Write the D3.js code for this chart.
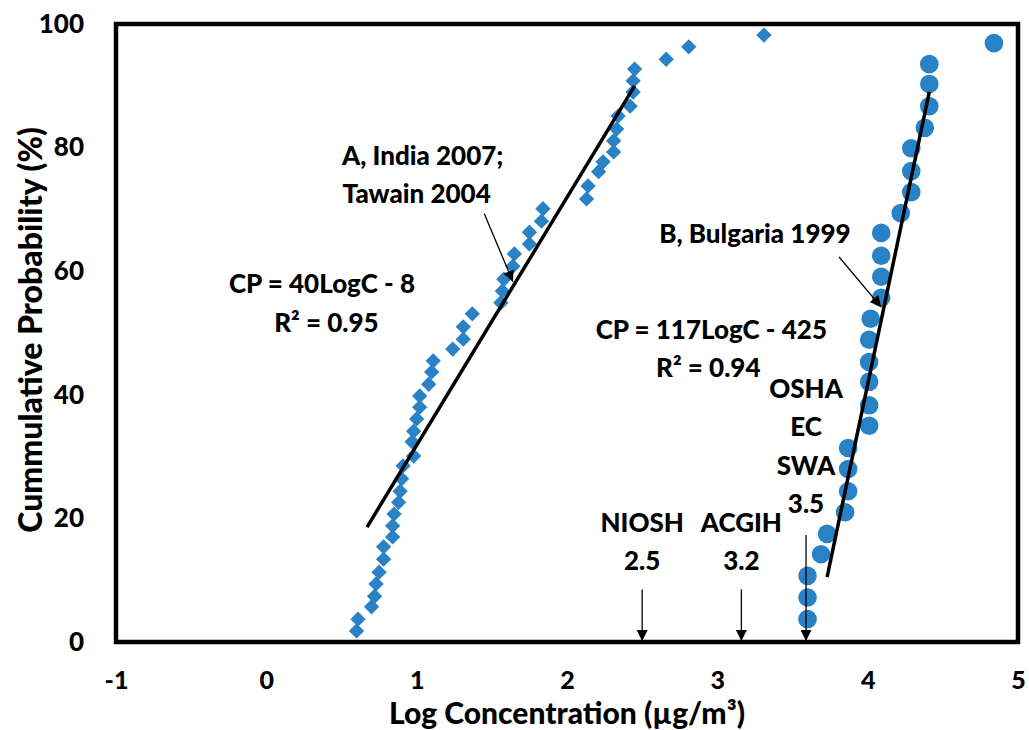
<!DOCTYPE html>
<html>
<head>
<meta charset="utf-8">
<script src="https://cdn.jsdelivr.net/npm/d3@7"></script>
<style>
  body { margin: 0; background: #fff; }
  text { font-family: Lato, "DejaVu Sans", sans-serif; font-weight: 900; fill: #000; }
</style>
</head>
<body>
<svg id="chart"></svg>
<script>
// Data: [log concentration, cumulative probability %]
const seriesA = [[0.60,1.8],[0.61,3.7],[0.70,5.7],[0.72,7.4],[0.73,9.4],[0.75,11.3],[0.78,13.4],[0.78,15.4],
  [0.84,17.0],[0.84,18.8],[0.85,20.7],[0.88,22.6],[0.89,24.4],[0.90,26.4],[0.91,28.5],[0.98,30.1],[0.97,32.4],
  [0.98,34.1],[1.00,36.1],[1.02,38.0],[1.02,39.8],[1.08,41.7],[1.10,43.7],[1.11,45.5],[1.24,47.4],[1.31,49.0],
  [1.31,51.0],[1.37,53.1],[1.56,54.9],[1.57,56.8],[1.58,58.7],[1.64,60.8],[1.65,62.8],[1.75,64.4],[1.75,66.3],
  [1.83,68.1],[1.84,70.1],[2.13,71.7],[2.14,73.8],[2.21,76.1],[2.24,77.7],[2.31,79.3],[2.31,81.1],[2.33,83.0],
  [2.34,85.1],[2.42,86.7],[2.44,89.0],[2.44,90.8],[2.45,92.7],[2.66,94.3],[2.81,96.3],[3.31,98.2]];
const seriesB = [[3.60,3.7],[3.60,7.2],[3.60,10.7],[3.69,14.2],[3.73,17.5],[3.85,21.0],[3.87,24.4],[3.87,28.0],
  [3.87,31.4],[4.01,35.0],[4.01,38.3],[4.01,42.1],[4.01,45.3],[4.01,48.9],[4.02,52.3],[4.09,55.7],[4.09,59.1],
  [4.09,62.5],[4.09,66.2],[4.22,69.4],[4.29,72.8],[4.29,76.2],[4.29,79.9],[4.38,83.2],[4.41,86.7],[4.41,90.3],
  [4.41,93.5],[4.84,96.9]];
// fitted lines, end points
const fitA = [[0.67,18.6],[2.45,90.0]];
const fitB = [[3.73,10.5],[4.41,89.0]];
const xTicks = [-1, 0, 1, 2, 3, 4, 5];
const yTicks = [0, 20, 40, 60, 80, 100];
// guideline arrows: [x, top of arrow %]
const limitArrows = [[2.5, 8.5], [3.16, 8.5], [3.59, 17.3]];
const limitLabels = [
  {x: 2.5, y: 17.8, lines: ["NIOSH", "2.5"]},
  {x: 3.16, y: 17.8, lines: ["ACGIH", "3.2"]},
  {x: 3.59, y: 39.5, lines: ["OSHA", "EC", "SWA", "3.5"]}
];

const margin = {top: 24, right: 11, bottom: 88, left: 116},
    width = 1029 - margin.left - margin.right,
    height = 730 - margin.top - margin.bottom;

const root = d3.select("#chart")
  .attr("width", width + margin.left + margin.right)
  .attr("height", height + margin.top + margin.bottom);

root.append("defs").append("marker")
  .attr("id", "head")
  .attr("viewBox", "0 0 10 10")
  .attr("refX", 10).attr("refY", 5)
  .attr("markerWidth", 12).attr("markerHeight", 11)
  .attr("markerUnits", "userSpaceOnUse")
  .attr("orient", "auto")
  .append("path").attr("d", "M0,0L10,5L0,10Z").attr("fill", "#000");

const svg = root.append("g")
  .attr("transform", `translate(${margin.left},${margin.top})`);

const x = d3.scaleLinear().domain([-1, 5]).range([0, width]);
const y = d3.scaleLinear().domain([0, 100]).range([height, 0]);

// X axis
svg.append("g")
  .attr("transform", `translate(0,${height})`)
  .call(d3.axisBottom(x).tickValues(xTicks).tickFormat(d => String(d)).tickSize(0).tickPadding(29))
  .call(g => g.select(".domain").remove())
  .selectAll("text")
    .style("font-size", "25px");

// Y axis
svg.append("g")
  .call(d3.axisLeft(y).tickValues(yTicks).tickFormat(d => String(d)).tickSize(0).tickPadding(32))
  .call(g => g.select(".domain").remove())
  .selectAll("text")
    .style("font-size", "26px");

// Series
const blue = "#2a82c6";
svg.selectAll(".dA")
  .data(seriesA)
  .join("path")
  .attr("class", "dA")
  .attr("d", d3.symbol(d3.symbolDiamond2, 150))
  .attr("transform", d => `translate(${x(d[0])},${y(d[1])})`)
  .attr("fill", blue);

svg.selectAll(".dB")
  .data(seriesB)
  .join("circle")
  .attr("class", "dB")
  .attr("cx", d => x(d[0]))
  .attr("cy", d => y(d[1]))
  .attr("r", 9.3)
  .attr("fill", blue);

// Fit lines
const line = d3.line().x(d => x(d[0])).y(d => y(d[1]));
[fitA, fitB].forEach(f => {
  svg.append("path").attr("d", line(f))
    .attr("stroke", "#000").attr("stroke-width", 3.5).attr("fill", "none");
});

// Frame
svg.append("rect")
  .attr("width", width).attr("height", height)
  .attr("fill", "none").attr("stroke", "#000").attr("stroke-width", 4.5);

// Guideline arrows
svg.selectAll(".lim")
  .data(limitArrows)
  .join("line")
  .attr("x1", d => x(d[0])).attr("x2", d => x(d[0]))
  .attr("y1", d => y(d[1])).attr("y2", y(0) - 1)
  .attr("stroke", "#000").attr("stroke-width", 1.3)
  .attr("marker-end", "url(#head)");

limitLabels.forEach(l => {
  l.lines.forEach((t, i) => {
    svg.append("text")
      .attr("x", x(l.x))
      .attr("y", y(l.y) + i * 38.5)
      .attr("text-anchor", "middle")
      .style("font-size", "26px")
      .text(t);
  });
});

// Annotations
function label(px, py, txt) {
  svg.append("text")
    .attr("x", x(px)).attr("y", y(py))
    .attr("text-anchor", "middle")
    .style("font-size", "26px")
    .text(txt);
}
label(1.04, 77.2, "A, India 2007;");
label(1.0, 71.0, "Tawain 2004");
label(0.37, 56.5, "CP = 40LogC - 8");
label(0.4, 50.2, "R² = 0.95");
label(3.25, 64.6, "B, Bulgaria 1999");
label(2.96, 49.0, "CP = 117LogC - 425");
label(2.94, 42.9, "R² = 0.94");

function arrow(a, b) {
  svg.append("line")
    .attr("x1", x(a[0])).attr("y1", y(a[1]))
    .attr("x2", x(b[0])).attr("y2", y(b[1]))
    .attr("stroke", "#000").attr("stroke-width", 1.3)
    .attr("marker-end", "url(#head)");
}
arrow([1.45, 69.3], [1.64, 58.3]);
arrow([3.81, 62.3], [4.09, 54.2]);

// Axis titles
svg.append("text")
  .attr("x", x(2.0))
  .attr("y", height + 82)
  .attr("text-anchor", "middle")
  .style("font-size", "30px")
  .text("Log Concentration (µg/m³)");

svg.append("text")
  .attr("transform", `translate(${-margin.left + 42},${y(50.5)}) rotate(-90)`)
  .attr("text-anchor", "middle")
  .style("font-size", "32px")
  .text("Cummulative Probability (%)");
</script>
</body>
</html>
